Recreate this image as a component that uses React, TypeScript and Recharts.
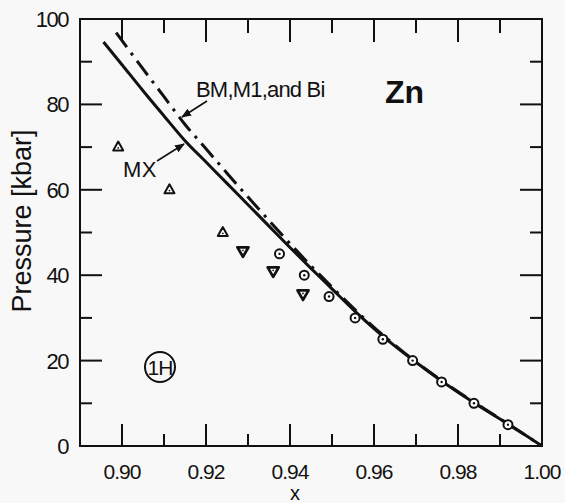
import React from "react";
import * as Recharts from "recharts";
import { ComposedChart, Line, Scatter, XAxis, YAxis, ReferenceArea } from "recharts";

// ---- data ----
const mxX = [0.8956, 0.9, 0.905, 0.91, 0.915, 0.92, 0.925, 0.93, 0.935, 0.94, 0.945, 0.95, 0.955, 0.96, 0.965, 0.97, 0.975, 0.98, 0.985, 0.99, 0.995, 1.0];
const mxP = [94.6, 89.3, 83.2, 77.3, 71.5, 66.5, 61.5, 56.5, 51.5, 46.5, 41.6, 36.8, 32.0, 27.5, 23.4, 19.6, 16.0, 12.6, 9.4, 6.3, 3.2, 0];

const bmX = [0.8986, 0.905, 0.91, 0.915, 0.92, 0.925, 0.93, 0.935, 0.94, 0.945, 0.95, 0.96, 0.97, 0.98, 0.99, 1.0];
const bmP = [96.8, 88.3, 81.8, 75.3, 69.6, 63.9, 58.3, 52.8, 47.4, 42.2, 37.2, 27.8, 19.7, 12.7, 6.4, 0];

const circleX = [0.9375, 0.9434, 0.9493, 0.9555, 0.9621, 0.9692, 0.9761, 0.9838, 0.9919];
const circleP = [45, 40, 35, 30, 25, 20, 15, 10, 5];

const upTriX = [0.8991, 0.9113, 0.924];
const upTriP = [70, 60, 50];

const downTriX = [0.9288, 0.936, 0.9431];
const downTriP = [45.6, 40.9, 35.5];

const xTicks = [0.9, 0.91, 0.92, 0.93, 0.94, 0.95, 0.96, 0.97, 0.98, 0.99, 1.0];
const xLabelTicks = [0.9, 0.92, 0.94, 0.96, 0.98, 1.0];
const yTicks = [0, 10, 20, 30, 40, 50, 60, 70, 80, 90, 100];
const yLabelTicks = [0, 20, 40, 60, 80, 100];
const X_MIN = 0.89;
const X_MAX = 1.0;
const Y_MIN = 0;
const Y_MAX = 100;

const zip = (xs: number[], ps: number[]) => xs.map((x, i) => ({ x, p: ps[i] }));
const mxData = zip(mxX, mxP);
const bmData = zip(bmX, bmP);
const circleData = zip(circleX, circleP);
const upTriData = zip(upTriX, upTriP);
const downTriData = zip(downTriX, downTriP);

// tick marks placed through the chart scales
const bottomTickData = xTicks.filter((v) => v < X_MAX).map((x) => ({ x, p: Y_MIN }));
const topTickData = xTicks.filter((v) => v < X_MAX).map((x) => ({ x, p: Y_MAX }));
const leftTickData = yTicks.filter((v) => v > Y_MIN && v < Y_MAX).map((p) => ({ x: X_MIN, p }));
const rightTickData = yTicks.filter((v) => v > Y_MIN && v < Y_MAX).map((p) => ({ x: X_MAX, p }));

const INK = "#111";
const FONT = "'Liberation Sans', Arial, sans-serif";

const isMajorX = (v: number) => Math.round(v * 100) % 2 === 0;
const isMajorY = (v: number) => Math.round(v) % 20 === 0;

const XLabel = (props: any) => {
  const { x, y, payload } = props;
  const v = payload.value as number;
  return (
    <text x={x} y={y + 33} textAnchor="middle" fontFamily={FONT} fontSize={21} letterSpacing={-1} fill={INK}>
      {v.toFixed(2)}
    </text>
  );
};

const YLabel = (props: any) => {
  const { x, y, payload } = props;
  return (
    <text x={x - 12} y={y} dy="0.36em" textAnchor="end" fontFamily={FONT} fontSize={22} letterSpacing={-1.5} fill={INK}>
      {String(payload.value)}
    </text>
  );
};

const BottomMark = (props: any) => {
  const { cx, cy, payload } = props;
  const len = isMajorX(payload.x) ? 22 : 12;
  return <path d={`M${cx},${cy} L${cx},${cy - len}`} stroke={INK} strokeWidth={2} fill="none" />;
};
const TopMark = (props: any) => {
  const { cx, cy, payload } = props;
  const len = isMajorX(payload.x) ? 23 : 14;
  return <path d={`M${cx},${cy} L${cx},${cy + len}`} stroke={INK} strokeWidth={2} fill="none" />;
};
const LeftMark = (props: any) => {
  const { cx, cy, payload } = props;
  const len = isMajorY(payload.p) ? 22 : 12;
  return <path d={`M${cx},${cy} L${cx + len},${cy}`} stroke={INK} strokeWidth={2} fill="none" />;
};
const RightMark = (props: any) => {
  const { cx, cy, payload } = props;
  const len = isMajorY(payload.p) ? 22 : 12;
  return <path d={`M${cx},${cy} L${cx - len},${cy}`} stroke={INK} strokeWidth={2} fill="none" />;
};

const CircleMark = (props: any) => {
  const { cx, cy } = props;
  return (
    <g>
      <circle cx={cx} cy={cy} r={4.5} fill="#fff" stroke={INK} strokeWidth={2} />
      <circle cx={cx} cy={cy} r={1.2} fill={INK} />
    </g>
  );
};

const UpTriMark = (props: any) => {
  const { cx, cy } = props;
  return (
    <g>
      <polygon
        points={`${cx},${cy - 5.5} ${cx - 5},${cy + 3.5} ${cx + 5},${cy + 3.5}`}
        fill="#fff"
        stroke={INK}
        strokeWidth={2}
        strokeLinejoin="round"
      />
      <circle cx={cx} cy={cy + 0.8} r={0.9} fill={INK} />
    </g>
  );
};

const DownTriMark = (props: any) => {
  const { cx, cy } = props;
  return (
    <g>
      <polygon
        points={`${cx - 5.5},${cy - 4} ${cx + 5.5},${cy - 4} ${cx},${cy + 5.5}`}
        fill="#fff"
        stroke={INK}
        strokeWidth={2.8}
        strokeLinejoin="round"
      />
      <circle cx={cx} cy={cy - 1} r={0.9} fill={INK} />
    </g>
  );
};

const Annotations = () => (
  <g>
    <defs>
      <marker id="ah" markerWidth="10" markerHeight="8" refX="9" refY="4" orient="auto" markerUnits="userSpaceOnUse">
        <path d="M0,0 L10,4 L0,8 Z" fill={INK} />
      </marker>
    </defs>
    <text
      x={22}
      y={221}
      transform="rotate(-90 22 221)"
      textAnchor="middle"
      dominantBaseline="central"
      fontFamily={FONT}
      fontSize={27}
      fill={INK}
    >
      Pressure [kbar]
    </text>
    <text x={295} y={500} textAnchor="middle" fontFamily={FONT} fontSize={20} fill={INK}>
      x
    </text>
    <text x={385} y={103} fontFamily={FONT} fontSize={32} fontWeight="bold" fill={INK}>
      Zn
    </text>
    <text x={196} y={97} fontFamily={FONT} fontSize={22} letterSpacing={-0.8} fill={INK}>
      BM,M1,and Bi
    </text>
    <line x1={207} y1={101} x2={182} y2={117} stroke={INK} strokeWidth={1.6} markerEnd="url(#ah)" />
    <text x={123} y={177} fontFamily={FONT} fontSize={22} letterSpacing={0.5} fill={INK}>
      MX
    </text>
    <line x1={157} y1={161} x2={184} y2={144} stroke={INK} strokeWidth={1.6} markerEnd="url(#ah)" />
    <circle cx={160} cy={367} r={15} fill="none" stroke={INK} strokeWidth={2} />
    <text x={160} y={367} dy="0.36em" textAnchor="middle" fontFamily={FONT} fontSize={21} letterSpacing={-1} fill={INK}>
      1H
    </text>
  </g>
);

const Customized: any = (Recharts as any).Customized;

export default function App() {
  return (
    <div style={{ position: "absolute", left: 0, top: 0, width: 565, height: 503, background: "#f8f8f8" }}>
      <ComposedChart width={565} height={503} margin={{ top: 19, right: 23, bottom: 0, left: 0 }}>
        <XAxis
          xAxisId="b"
          dataKey="x"
          type="number"
          domain={[X_MIN, X_MAX]}
          ticks={xLabelTicks}
          interval={0}
          height={57}
          tickSize={0}
          tickMargin={0}
          tickLine={false}
          axisLine={false}
          tick={<XLabel />}
        />
        <YAxis
          yAxisId="l"
          type="number"
          domain={[Y_MIN, Y_MAX]}
          ticks={yLabelTicks}
          interval={0}
          width={80}
          tickSize={0}
          tickMargin={0}
          tickLine={false}
          axisLine={false}
          tick={<YLabel />}
        />
        <ReferenceArea
          xAxisId="b"
          yAxisId="l"
          x1={X_MIN}
          x2={X_MAX}
          y1={Y_MIN}
          y2={Y_MAX}
          fill="none"
          fillOpacity={0}
          stroke={INK}
          strokeWidth={2}
          ifOverflow="visible"
        />
        <Scatter xAxisId="b" yAxisId="l" data={bottomTickData} dataKey="p" shape={<BottomMark />} isAnimationActive={false} />
        <Scatter xAxisId="b" yAxisId="l" data={topTickData} dataKey="p" shape={<TopMark />} isAnimationActive={false} />
        <Scatter xAxisId="b" yAxisId="l" data={leftTickData} dataKey="p" shape={<LeftMark />} isAnimationActive={false} />
        <Scatter xAxisId="b" yAxisId="l" data={rightTickData} dataKey="p" shape={<RightMark />} isAnimationActive={false} />
        <Line
          xAxisId="b"
          yAxisId="l"
          data={bmData}
          dataKey="p"
          type="monotone"
          stroke={INK}
          strokeWidth={3}
          strokeDasharray="18 7 3 7"
          dot={false}
          isAnimationActive={false}
        />
        <Line
          xAxisId="b"
          yAxisId="l"
          data={mxData}
          dataKey="p"
          type="monotone"
          stroke={INK}
          strokeWidth={3}
          dot={false}
          isAnimationActive={false}
        />
        <Scatter xAxisId="b" yAxisId="l" data={upTriData} dataKey="p" shape={<UpTriMark />} isAnimationActive={false} />
        <Scatter xAxisId="b" yAxisId="l" data={downTriData} dataKey="p" shape={<DownTriMark />} isAnimationActive={false} />
        <Scatter xAxisId="b" yAxisId="l" data={circleData} dataKey="p" shape={<CircleMark />} isAnimationActive={false} />
        {Customized ? <Customized component={<Annotations />} /> : null}
      </ComposedChart>
      {Customized ? null : (
        <svg width={565} height={503} style={{ position: "absolute", left: 0, top: 0, pointerEvents: "none" }}>
          <Annotations />
        </svg>
      )}
    </div>
  );
}
